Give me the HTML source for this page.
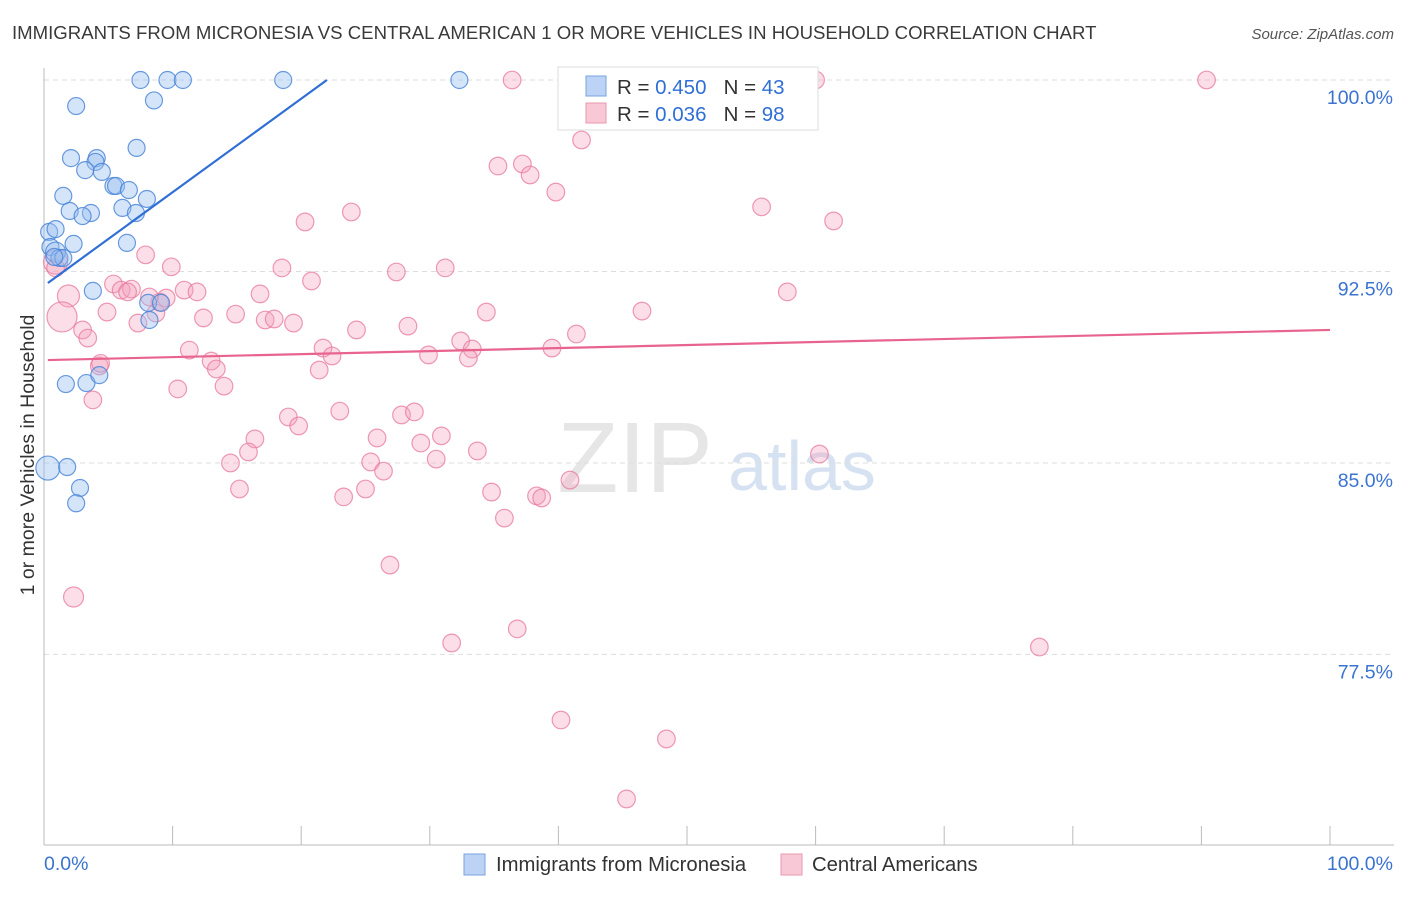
<!DOCTYPE html>
<html><head><meta charset="utf-8"><style>
body{margin:0;background:#fff;font-family:"Liberation Sans",sans-serif;}
svg text{font-family:"Liberation Sans",sans-serif;}
</style></head><body>
<svg id="chart" width="1406" height="892">
<text x="12" y="39" font-size="18.6" fill="#3a3a3a">IMMIGRANTS FROM MICRONESIA VS CENTRAL AMERICAN 1 OR MORE VEHICLES IN HOUSEHOLD CORRELATION CHART</text>
<text x="1394" y="39" font-size="15" fill="#555" text-anchor="end" font-style="italic">Source: ZipAtlas.com</text>
<text x="34" y="455" font-size="19.5" fill="#333" text-anchor="middle" transform="rotate(-90 34 455)">1 or more Vehicles in Household</text>
<text x="635" y="492" font-size="100" fill="#e6e6e6" text-anchor="middle" font-family="Liberation Serif">ZIP</text>
<text x="802" y="490" font-size="70" fill="#d6e2f2" text-anchor="middle">atlas</text>
<g id="grid"></g><g id="axes"></g><g id="pts"></g><g id="trend"></g>
<g>
<rect x="558" y="67" width="260" height="63" fill="#fff" stroke="#ddd"/>
<rect x="586" y="76" width="20" height="20" fill="#bcd3f5" stroke="#7aa3e0"/>
<rect x="586" y="103" width="20" height="20" fill="#f8c8d6" stroke="#e89ab2"/>
<text x="617" y="94" font-size="20.5" fill="#333">R = <tspan fill="#2f6fd6">0.450</tspan>&#160;&#160;&#160;N = <tspan fill="#2f6fd6">43</tspan></text>
<text x="617" y="121" font-size="20.5" fill="#333">R = <tspan fill="#2f6fd6">0.036</tspan>&#160;&#160;&#160;N = <tspan fill="#2f6fd6">98</tspan></text>
</g>
<g>
<rect x="464" y="854" width="21" height="21" fill="#bcd3f5" stroke="#7aa3e0"/>
<text x="496" y="871" font-size="20.3" fill="#333">Immigrants from Micronesia</text>
<rect x="781" y="854" width="21" height="21" fill="#f8c8d6" stroke="#e89ab2"/>
<text x="812" y="871" font-size="20.3" fill="#333">Central Americans</text>
</g>
<text x="44" y="870" font-size="19.5" fill="#3b73d1">0.0%</text>
<text x="1393" y="870" font-size="19.5" fill="#3b73d1" text-anchor="end">100.0%</text>
</svg>
<script>
const yTicks=[100,92.5,85,77.5];
const yTickLabels=["100.0%","92.5%","85.0%","77.5%"];
const blueX=[7.5,9.6,10.8,18.6,32.3,8.55,2.5,7.2,2.1,4.1,4.0,3.2,4.5,5.4,5.6,6.6,1.5,8.0,6.1,2.0,3.65,3.0,7.15,0.4,0.9,6.45,2.3,0.5,0.9,1.2,1.5,3.8,8.1,9.1,8.2,1.7,3.3,4.3,0.3,1.8,2.8,2.5,0.8];
const blueY=[100,100,100,100,100,99.2,98.98,97.34,96.94,96.94,96.79,96.47,96.4,95.85,95.85,95.69,95.46,95.34,94.99,94.87,94.79,94.67,94.79,94.05,94.16,93.62,93.58,93.46,93.26,93.03,93.03,91.74,91.27,91.27,90.6,88.09,88.13,88.44,84.8,84.84,84.02,83.42,93.07];
const blueR=[8.5,8.5,8.5,8.5,8.5,8.5,8.5,8.5,8.5,8.5,8.5,8.5,8.5,8.5,8.5,8.5,8.5,8.5,8.5,8.5,8.5,8.5,8.5,8.5,8.5,8.5,8.5,8.5,10,8.5,8.5,8.5,8.5,8.5,8.5,8.5,8.5,8.5,12,8.5,8.5,8.5,8.5];
const pinkX=[36.4,47.0,54.5,60.0,90.4,41.8,35.3,37.2,37.8,39.8,55.8,20.3,23.9,61.4,7.9,9.9,0.9,18.5,20.8,27.4,31.2,5.4,6.0,6.8,6.5,10.9,11.9,9.5,16.8,1.9,4.9,12.4,14.9,17.2,17.9,19.4,34.4,46.5,57.8,1.4,7.3,8.7,3.0,3.4,24.3,28.3,41.4,32.4,11.3,21.7,22.4,29.9,33.3,39.5,33.0,13.0,13.4,21.4,4.3,10.4,14.0,3.8,19.0,19.8,23.0,27.8,28.8,16.4,25.9,29.3,30.9,14.5,15.9,25.4,26.4,30.5,33.7,60.3,15.2,23.3,25.0,34.8,38.3,38.7,40.9,35.8,26.9,2.3,36.8,31.7,77.4,40.2,48.4,45.3,0.9,9.0,8.2,4.4];
const pinkY=[100,100,100,100,100,97.65,96.63,96.71,96.28,95.61,95.03,94.44,94.83,94.48,93.15,92.68,92.87,92.64,92.13,92.48,92.64,92.01,91.77,91.81,91.7,91.77,91.7,91.46,91.62,91.54,90.91,90.68,90.83,90.6,90.64,90.48,90.91,90.95,91.7,90.72,90.48,90.87,90.21,89.89,90.21,90.36,90.05,89.78,89.42,89.5,89.19,89.23,89.46,89.5,89.11,88.99,88.68,88.64,88.8,87.9,88.01,87.47,86.8,86.45,87.03,86.88,87.0,85.94,85.98,85.78,86.06,85.0,85.43,85.04,84.68,85.15,85.47,85.35,83.98,83.67,83.98,83.86,83.71,83.63,84.33,82.84,81.0,79.75,78.5,77.95,77.79,74.93,74.19,71.84,92.64,91.3,91.5,88.9];
const pinkBig={16:12,29:11,39:15,87:10};
const blueTrendX=[0.3,22.0], blueTrendY=[92.05,100];
const pinkTrendX=[0.3,100], pinkTrendY=[89.03,90.21];
const X=v=>44+v*12.86, Y=v=>80+(100-v)*25.53;
const NS="http://www.w3.org/2000/svg";
function mk(t,a,p){const e=document.createElementNS(NS,t);for(const k in a)e.setAttribute(k,a[k]);p.appendChild(e);return e;}
const grid=document.getElementById('grid'),axes=document.getElementById('axes'),pts=document.getElementById('pts'),tr=document.getElementById('trend');
yTicks.forEach((v,i)=>{
 const l=mk('line',{x1:44,x2:1394,y1:Y(v),y2:Y(v),stroke:'#ddd','stroke-dasharray':'5,4'},grid);
 
 
 const t=mk('text',{x:1393,y:Y(v)+24,'font-size':19.5,fill:'#3b73d1','text-anchor':'end'},grid);
 t.textContent=yTickLabels[i];
 
 
});
const ax=mk('line',{x1:44,x2:44,y1:68,y2:845,stroke:'#bbb'},axes);


const bx=mk('line',{x1:44,x2:1394,y1:845,y2:845,stroke:'#bbb'},axes);


for(let i=0;i<=10;i++){
 const t=mk('line',{x1:X(i*10),x2:X(i*10),y1:826,y2:845,stroke:'#bbb'},axes);
 
 
}
pinkX.forEach((v,i)=>{
 const c=mk('circle',{cx:X(v),cy:Y(pinkY[i]),r:pinkBig[i]||8.8,fill:'rgba(244,160,188,0.35)',stroke:'rgba(232,120,155,0.75)','stroke-width':1.2},pts);
 
 
});
blueX.forEach((v,i)=>{
 const c=mk('circle',{cx:X(v),cy:Y(blueY[i]),r:blueR[i],fill:'rgba(150,190,240,0.4)',stroke:'rgba(70,130,215,0.8)','stroke-width':1.2},pts);
 
 
});
const bt=mk('line',{x1:X(blueTrendX[0]),y1:Y(blueTrendY[0]),x2:X(blueTrendX[1]),y2:Y(blueTrendY[1]),stroke:'#2f6fd6','stroke-width':2.2},tr);


const pt=mk('line',{x1:X(pinkTrendX[0]),y1:Y(pinkTrendY[0]),x2:X(pinkTrendX[1]),y2:Y(pinkTrendY[1]),stroke:'#e8648f','stroke-width':2.2},tr);


</script>
</body></html>
